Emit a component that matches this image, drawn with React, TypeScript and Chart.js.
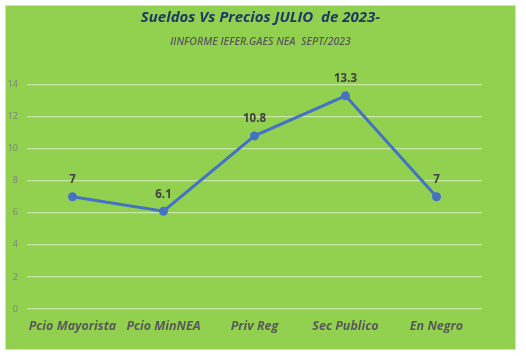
import React, { useEffect, useRef } from "react";
import { Chart, registerables } from "chart.js";

Chart.register(...registerables);

const categories = ["Pcio Mayorista", "Pcio MinNEA", "Priv Reg", "Sec Publico", "En Negro"];
const values = [7, 6.1, 10.8, 13.3, 7];
const titleText = "Sueldos Vs Precios JULIO  de 2023-";
const subtitleText = "IINFORME IEFER.GAES NEA  SEPT/2023";

const FONT = "'Open Sans', sans-serif";

const dataLabelPlugin = {
  id: "dataLabelPlugin",
  afterDatasetsDraw(chart: any) {
    const ctx = chart.ctx;
    const meta = chart.getDatasetMeta(0);
    const data = chart.data.datasets[0].data;
    ctx.save();
    ctx.font = `bold 11.5px ${FONT}`;
    ctx.fillStyle = "#404040";
    ctx.textAlign = "center";
    ctx.textBaseline = "middle";
    meta.data.forEach((pt: any, i: number) => {
      ctx.fillText(String(data[i]), pt.x, pt.y - 17);
    });
    ctx.restore();
  },
};

export default function App() {
  const ref = useRef<HTMLCanvasElement | null>(null);
  useEffect(() => {
    if (!ref.current) return;
    const chart = new Chart(ref.current, {
      type: "line",
      data: {
        labels: categories,
        datasets: [
          {
            data: values,
            borderColor: "#4472C4",
            backgroundColor: "#4472C4",
            borderWidth: 3,
            pointRadius: 3,
            pointBackgroundColor: "#4472C4",
            pointBorderColor: "#4472C4",
            tension: 0,
          },
        ],
      },
      options: {
        animation: false,
        responsive: false,
        maintainAspectRatio: false,
        layout: { padding: 0 },
        plugins: {
          legend: { display: false },
          tooltip: { enabled: false },
          title: {
            display: true,
            text: titleText,
            color: "#1F3864",
            font: { family: FONT, size: 15, weight: "bold", style: "italic" },
            padding: { top: 3, bottom: 3 },
          },
          subtitle: {
            display: true,
            text: subtitleText,
            color: "#595959",
            font: { family: FONT, size: 10.5, style: "italic", weight: "600" },
            padding: { top: 6, bottom: 36 },
          },
        },
        scales: {
          x: {
            offset: true,
            grid: { display: false, drawTicks: false },
            border: { display: false },
            ticks: {
              color: "#595959",
              font: { family: FONT, size: 12.5, weight: "bold", style: "italic" },
              padding: 10,
              maxRotation: 0,
              autoSkip: false,
            },
            afterFit(scale: any) {
              scale.height = 40;
            },
          },
          y: {
            min: 0,
            max: 14,
            grid: { color: "#C8E6A6", lineWidth: 1.3, drawTicks: false },
            border: { display: false },
            ticks: {
              stepSize: 2,
              color: "#7F7F7F",
              font: { family: FONT, size: 9 },
              padding: 9,
            },
            afterFit(scale: any) {
              scale.width = 21;
            },
          },
          yRight: {
            position: "right",
            display: true,
            grid: { display: false, drawTicks: false },
            border: { display: false },
            ticks: { display: false },
            afterFit(scale: any) {
              scale.width = 33;
            },
          },
        },
      },
      plugins: [dataLabelPlugin],
    });
    return () => chart.destroy();
  }, []);

  return (
    <div
      style={{
        position: "absolute",
        left: 5,
        top: 5,
        width: 509,
        height: 343,
        background: "#92D050",
        border: "1px solid #D9D9D9",
      }}
    >
      <canvas ref={ref} width={509} height={343} style={{ display: "block" }} />
    </div>
  );
}
